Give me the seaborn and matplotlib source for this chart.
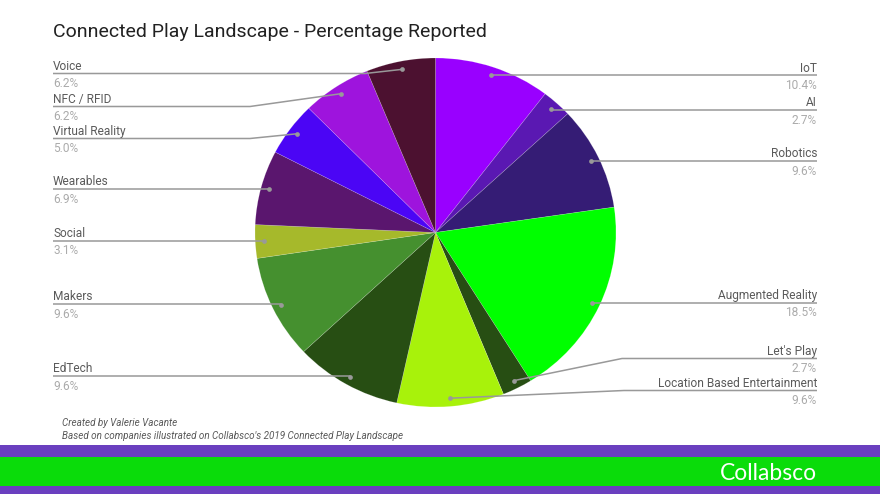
import numpy as np
import matplotlib
matplotlib.use("Agg")
import matplotlib.pyplot as plt
import seaborn as sns

# ---- data ----
categories = ["IoT", "AI", "Robotics", "Augmented Reality", "Let's Play",
              "Location Based Entertainment", "EdTech", "Makers", "Social",
              "Wearables", "Virtual Reality", "NFC / RFID", "Voice"]
percentages = [10.4, 2.7, 9.6, 18.5, 2.7, 9.6, 9.6, 9.6, 3.1, 6.9, 5.0, 6.2, 6.2]
pct_labels = ["10.4%", "2.7%", "9.6%", "18.5%", "2.7%", "9.6%", "9.6%", "9.6%",
              "3.1%", "6.9%", "5.0%", "6.2%", "6.2%"]
slice_colors = ["#9900ff", "#5a18b2", "#351c75", "#00ff00", "#274e13",
                "#a8f20b", "#274e13", "#45902f", "#a6b92b", "#5a166e",
                "#4b05f5", "#9e14dd", "#4c1130"]

# ---- layout (pixels) ----
W, H = 880, 494
CX, CY, RX, RY = 435.5, 232.5, 180.5, 174.5
DOT_F = 0.953
side = ["R", "R", "R", "R", "R", "R", "L", "L", "L", "L", "L", "L", "L"]
label_y = [75.5, 110, 161, 302.5, 358.5, 390.5, 376, 304, 240.5, 189, 138.5, 106.5, 73.5]
elbow_x = [None, None, None, None, 622, 624, None, None, None, None, 250, 250, 365]
LEFT_X, RIGHT_X = 53, 817

sns.set_theme(style="white")
plt.rcParams["font.family"] = ["Roboto", "DejaVu Sans"]

fig = plt.figure(figsize=(W / 100, H / 100), dpi=100)
fig.patch.set_facecolor("white")

# pie axes
pax = fig.add_axes([(CX - RX) / W, (H - (CY + RY)) / H, 2 * RX / W, 2 * RY / H])
wedges, _ = pax.pie(percentages, colors=slice_colors, startangle=90,
                    counterclock=False, radius=1,
                    wedgeprops=dict(linewidth=0.4, edgecolor=(1, 1, 1, 0.25)))
pax.set_xlim(-1, 1)
pax.set_ylim(-1, 1)
pax.set_aspect("auto")
pax.axis("off")

# overlay axes in pixel coordinates, drawn above the pie
ov = fig.add_axes([0, 0, 1, 1])
ov.set_xlim(0, W)
ov.set_ylim(H, 0)
ov.axis("off")
ov.patch.set_alpha(0)
ov.set_zorder(5)

line_col = "#999999"
for i, w in enumerate(wedges):
    mid = np.deg2rad((w.theta1 + w.theta2) / 2)
    dx = CX + DOT_F * RX * np.cos(mid)
    dy = CY - DOT_F * RY * np.sin(mid)
    ly = label_y[i]
    ex = dx if elbow_x[i] is None else elbow_x[i]
    end = RIGHT_X if side[i] == "R" else LEFT_X
    ov.plot([dx, ex, end], [dy, ly, ly], color=line_col, lw=1.1, zorder=3,
            solid_capstyle="butt")
    ov.plot([dx], [dy], "o", color=line_col, ms=3.4, mec="none", zorder=4)
    tx = RIGHT_X if side[i] == "R" else LEFT_X
    ha = "right" if side[i] == "R" else "left"
    ov.text(tx, ly - 7.5, categories[i], ha=ha, va="center", fontsize=8.6,
            color="#5a5a5a")
    ov.text(tx, ly + 10, pct_labels[i], ha=ha, va="center", fontsize=8.6,
            color="#ababab")

# title
ov.text(53, 32, "Connected Play Landscape - Percentage Reported", ha="left",
        va="center", fontsize=14.0, color="#212121")

# footer notes
ov.text(62, 423, "Created by Valerie Vacante", ha="left", va="center",
        fontsize=7.1, style="italic", color="#595959")
ov.text(62, 436, "Based on companies illustrated on Collabsco's 2019 Connected Play Landscape",
        ha="left", va="center", fontsize=7.1, style="italic", color="#595959")

# bottom brand band
ov.add_patch(plt.Rectangle((0, 445), W, 12, color="#6a3fbf", zorder=1, lw=0))
ov.add_patch(plt.Rectangle((0, 486), W, 8, color="#6a3fbf", zorder=1, lw=0))
ov.add_patch(plt.Rectangle((0, 457), W, 29, color="#0adc0a", zorder=2, lw=0))
ov.text(817, 473, "Collabsco", ha="right", va="center", fontsize=16.5,
        color="white", fontweight="normal", family=["Lato", "DejaVu Sans"], zorder=3)

fig.savefig("out.png", dpi=100, facecolor="white")
